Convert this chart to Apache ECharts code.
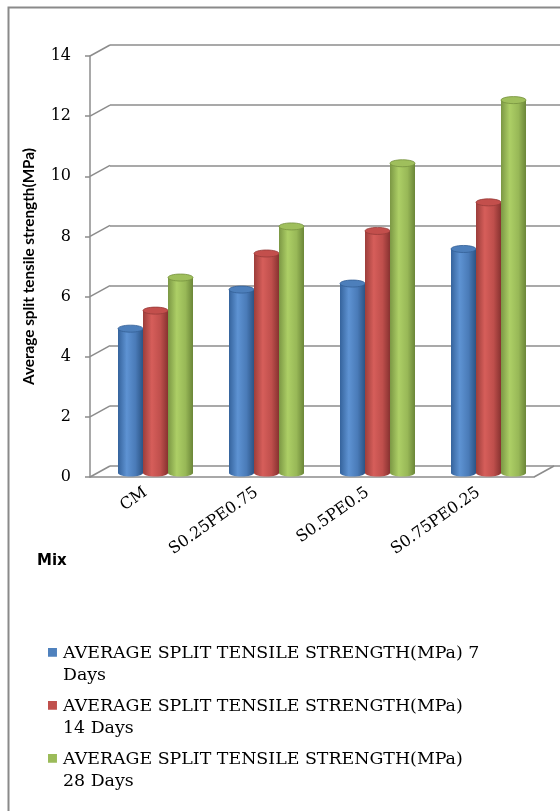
<!DOCTYPE html>
<html><head><meta charset="utf-8">
<script src="https://cdn.jsdelivr.net/npm/echarts@6/dist/echarts.min.js"></script>
<style>html,body{margin:0;padding:0;background:#fff}#c{width:560px;height:811px}</style>
</head><body><div id="c"></div>
<script>
const categories = ['CM', 'S0.25PE0.75', 'S0.5PE0.5', 'S0.75PE0.25'];
const seriesNames = [
  'AVERAGE SPLIT TENSILE STRENGTH(MPa) 7 Days',
  'AVERAGE SPLIT TENSILE STRENGTH(MPa) 14 Days',
  'AVERAGE SPLIT TENSILE STRENGTH(MPa) 28 Days'
];
const legendLabels = [
  'AVERAGE SPLIT TENSILE STRENGTH(MPa) 7\nDays',
  'AVERAGE SPLIT TENSILE STRENGTH(MPa)\n14 Days',
  'AVERAGE SPLIT TENSILE STRENGTH(MPa)\n28 Days'
];
const days7 = [4.8, 6.1, 6.3, 7.45];
const days14 = [5.4, 7.3, 8.05, 9.0];
const days28 = [6.5, 8.2, 10.3, 12.4];
const yTicks = [0, 2, 4, 6, 8, 10, 12, 14];
const yAxisTitle = 'Average split tensile strength(MPa)';
const xAxisTitle = 'Mix';

const palettes = [
  {base: '#4F81BD', stops: ['#35639c', '#5e93d3', '#4a7bb8', '#2c5485'], top: '#4d7fbb', edge: '#335f95'},
  {base: '#C0504D', stops: ['#9c3e3b', '#d65e5a', '#bf4f4c', '#873230'], top: '#c34f4c', edge: '#963b39'},
  {base: '#9BBB59', stops: ['#7b9744', '#adcf66', '#98b857', '#6b8638'], top: '#9fbf5c', edge: '#76923f'}
];
const DX = 10, DY = -4;     // mid-depth offset of bars
const BX = 20, BY = -11;    // back-wall offset

const chart = echarts.init(document.getElementById('c'), null, {renderer: 'canvas'});

function cylinder(idx) {
  const p = palettes[idx];
  return function (params, api) {
    const cat = api.value(0), val = api.value(1);
    const top = api.coord([cat, val]);
    const base = api.coord([cat, 0]);
    const bw = 25;
    const cx = top[0] + (idx - 1) * bw + DX;
    const ty = top[1] + DY, by = base[1] + DY;
    const grad = new echarts.graphic.LinearGradient(0, 0, 1, 0, [
      {offset: 0, color: p.stops[0]}, {offset: 0.35, color: p.stops[1]},
      {offset: 0.7, color: p.stops[2]}, {offset: 1, color: p.stops[3]}
    ]);
    return {type: 'group', children: [
      {type: 'ellipse', shape: {cx: cx, cy: by, rx: bw / 2, ry: 3.5}, style: {fill: grad}},
      {type: 'rect', shape: {x: cx - bw / 2, y: ty, width: bw, height: by - ty}, style: {fill: grad}},
      {type: 'ellipse', shape: {cx: cx, cy: ty, rx: bw / 2, ry: 3.5}, style: {fill: p.top, stroke: p.edge, lineWidth: 0.8}}
    ]};
  };
}

const valueSets = [days7, days14, days28];
const barSeries = valueSets.map((vals, i) => ({
  type: 'custom',
  name: seriesNames[i],
  xAxisIndex: 0, yAxisIndex: 0,
  itemStyle: {color: palettes[i].base},
  renderItem: cylinder(i),
  encode: {x: 0, y: 1},
  data: vals.map((v, k) => [k, v]),
  z: 5
}));

const depthSeries = {
  type: 'custom',
  xAxisIndex: 0, yAxisIndex: 0,
  silent: true,
  renderItem: function (params, api) {
    const v = api.value(0);
    const band = api.size([1, 0])[0];
    const p = api.coord([0, v]);
    const x0 = p[0] - band / 2;
    const children = [{type: 'line', shape: {x1: x0, y1: p[1], x2: x0 + BX, y2: p[1] + BY}, style: {stroke: '#8c8c8c', lineWidth: 1.5}}];
    if (v === 0) {
      const pr = api.coord([categories.length - 1, 0]);
      const xr = pr[0] + band / 2;
      children.push({type: 'line', shape: {x1: xr, y1: pr[1], x2: xr + BX, y2: pr[1] + BY}, style: {stroke: '#8c8c8c', lineWidth: 1.5}});
    }
    return {type: 'group', children: children};
  },
  encode: {y: 0},
  data: yTicks.map(v => [v]),
  z: 1
};

const serif = "'DejaVu Serif', 'Liberation Serif', serif";

chart.setOption({
  animation: false,
  backgroundColor: '#fff',
  grid: [
    {left: 90, top: 56, width: 444, height: 421},
    {left: 90 + BX, top: 56 + BY, width: 480, height: 421}
  ],
  xAxis: [
    {type: 'category', gridIndex: 0, data: categories,
     axisLine: {lineStyle: {color: '#8c8c8c', width: 1.5}},
     axisTick: {length: 5, lineStyle: {color: '#8c8c8c', width: 1.5}},
     axisLabel: {rotate: 35, fontFamily: serif, fontSize: 16, color: '#000', margin: 14}},
    {type: 'category', gridIndex: 1, data: categories, show: false}
  ],
  yAxis: [
    {type: 'value', gridIndex: 0, min: 0, max: 14, interval: 2,
     name: yAxisTitle, nameLocation: 'middle', nameRotate: 90, nameGap: 53,
     nameTextStyle: {fontFamily: "Lato, 'Liberation Sans Narrow', 'DejaVu Sans Condensed', sans-serif", fontWeight: 'bold', fontSize: 15.3, color: '#000'},
     axisLine: {show: true, lineStyle: {color: '#8c8c8c', width: 1.5}},
     axisTick: {show: true, length: 5, lineStyle: {color: '#8c8c8c', width: 1.5}},
     axisLabel: {fontFamily: serif, fontSize: 16, color: '#000', margin: 19},
     splitLine: {show: false}},
    {type: 'value', gridIndex: 1, min: 0, max: 14, interval: 2,
     axisLine: {show: false}, axisTick: {show: false}, axisLabel: {show: false},
     splitLine: {show: true, lineStyle: {color: '#8c8c8c', width: 1.5}}}
  ],
  legend: {
    orient: 'vertical', left: 43, top: 637,
    itemWidth: 11, itemHeight: 43, itemGap: 9,
    icon: 'path://M0,6H10V16H0Z M0,0H0.1 M0,48H0.1',
    data: seriesNames,
    formatter: function (name) { return legendLabels[seriesNames.indexOf(name)]; },
    textStyle: {fontFamily: serif, fontSize: 17.4, lineHeight: 22, color: '#000'}
  },
  graphic: [
    {type: 'rect', left: 6, top: 5, shape: {width: 600, height: 900}, style: {fill: 'none', stroke: '#8a8a8a', lineWidth: 2}, z: 0},
    {type: 'text', left: 37, top: 554, style: {text: xAxisTitle, font: "bold 15px 'DejaVu Sans', 'Liberation Sans', sans-serif", fill: '#000'}}
  ],
  series: [depthSeries].concat(barSeries)
});
</script></body></html>
